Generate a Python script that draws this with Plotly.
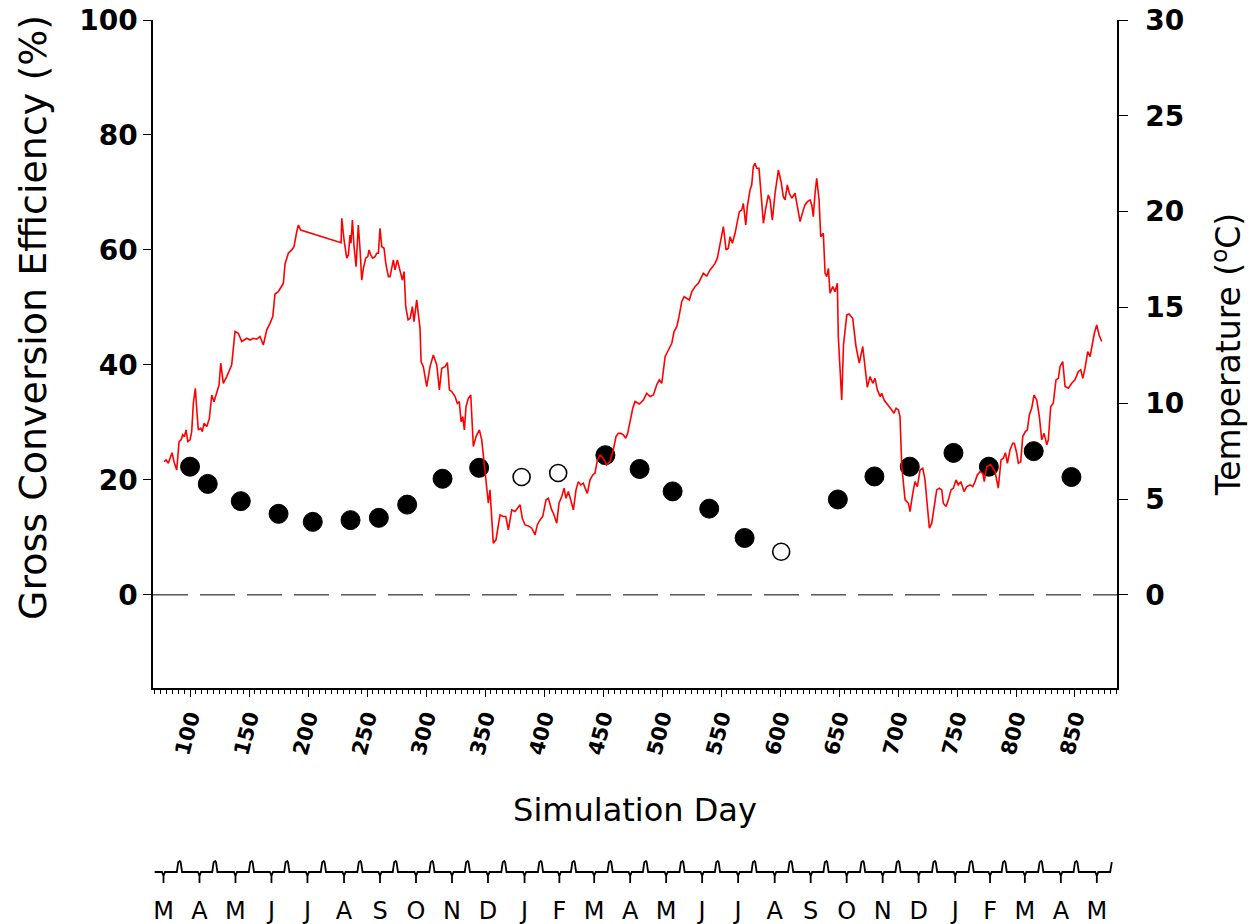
import plotly.graph_objects as go

# ---------------- data ----------------
temp_day = [78.0, 79.7, 81.6, 83.0, 84.7, 86.4, 88.7, 90.7, 92.4, 93.8, 95.2, 96.6, 98.1, 100.0, 101.4, 102.8, 104.5, 105.7, 107.0, 109.1,
            110.4, 111.9, 114.2, 116.4, 118.4, 120.3, 122.6, 124.6, 126.0, 128.2, 131.1, 133.9, 135.3, 138.1, 140.9, 143.8, 148.1, 150.9, 153.6, 156.5,
            159.3, 162.1, 165.0, 167.8, 170.1, 172.0, 174.8, 177.7, 179.1, 180.5, 183.3, 186.2, 188.1, 190.4, 191.8, 193.8, 228.0, 228.6, 230.5, 232.8,
            234.2, 235.6, 236.4, 237.6, 239.0, 240.7, 242.6, 244.1, 245.5, 246.9, 248.9, 250.6, 251.7, 253.1, 254.8, 256.8, 258.2, 259.6, 261.0, 262.5,
            264.4, 265.9, 268.1, 269.5, 270.9, 272.3, 273.7, 275.7, 277.1, 278.8, 279.9, 281.4, 282.8, 284.8, 286.5, 288.4, 289.8, 292.1, 293.5, 294.9,
            295.8, 297.7, 300.6, 303.4, 306.2, 309.1, 311.3, 313.3, 316.1, 318.1, 319.8, 321.8, 324.6, 326.5, 328.2, 329.7, 331.1, 332.5, 333.9, 335.9,
            337.9, 340.1, 342.4, 345.2, 347.2, 349.4, 351.4, 352.8, 354.2, 355.7, 357.0, 359.3, 361.3, 362.7, 365.5, 367.6, 369.8, 372.6, 375.4, 377.4,
            379.7, 381.6, 383.9, 386.7, 389.6, 392.4, 394.3, 396.6, 398.9, 401.7, 403.7, 406.5, 407.9, 410.8, 412.7, 415.0, 417.0, 418.6, 420.6, 422.6,
            424.9, 427.1, 429.1, 431.1, 433.3, 434.8, 436.7, 439.0, 441.3, 443.2, 445.2, 447.5, 450.2, 453.1, 455.9, 458.7, 461.0, 462.9, 465.0, 467.2,
            469.2, 470.9, 472.9, 475.2, 477.1, 480.8, 484.2, 487.0, 489.9, 492.7, 495.5, 497.7, 499.8, 502.6, 505.4, 508.3, 510.2, 512.5, 514.4, 516.7,
            518.7, 520.9, 523.2, 525.2, 528.0, 530.8, 532.8, 535.0, 537.9, 540.7, 543.0, 544.9, 546.9, 548.6, 550.6, 552.0, 554.3, 556.2, 557.7, 559.6,
            561.9, 563.8, 565.5, 567.6, 568.9, 571.0, 572.3, 574.6, 576.0, 577.4, 578.8, 580.3, 582.2, 583.9, 585.9, 587.9, 590.1, 591.6, 593.5, 595.8,
            598.6, 600.9, 602.8, 604.3, 606.2, 607.9, 609.9, 612.7, 614.7, 617.0, 619.3, 621.2, 623.2, 625.5, 626.9, 628.2, 629.7, 631.1, 633.1, 634.5,
            636.7, 638.2, 639.6, 641.0, 642.4, 644.7, 646.6, 648.6, 649.4, 650.9, 652.3, 653.8, 656.6, 658.5, 661.6, 664.4, 667.2, 670.1, 672.1, 674.0,
            676.3, 678.6, 680.5, 682.5, 684.8, 686.2, 688.2, 690.5, 692.7, 694.7, 696.6, 698.4, 700.3, 701.7, 703.2, 706.0, 708.8, 710.2, 712.5, 714.4,
            716.4, 718.7, 721.0, 722.9, 724.9, 726.6, 728.6, 730.5, 732.8, 735.0, 737.1, 738.4, 740.7, 742.7, 744.9, 746.9, 749.2, 751.1, 753.2, 756.0,
            758.3, 761.1, 763.3, 765.3, 767.2, 769.5, 771.8, 773.1, 775.2, 778.5, 782.2, 785.0, 787.3, 789.3, 791.0, 792.7, 795.0, 797.2, 798.6, 800.6,
            802.0, 804.0, 805.7, 807.9, 809.6, 811.3, 813.3, 815.3, 817.6, 819.8, 821.8, 823.8, 826.1, 827.4, 829.4, 831.6, 833.9, 835.9, 837.3, 839.6,
            841.6, 844.4, 847.2, 850.0, 852.8, 854.9, 856.6, 858.5, 860.8, 862.8, 864.7, 866.4, 868.4, 870.4, 872.7]
temp_val = [6.95, 7.04, 6.87, 7.13, 7.42, 6.95, 6.52, 8.00, 8.09, 8.35, 8.26, 8.61, 8.00, 8.09, 8.52, 10.0, 10.78, 9.65, 8.61, 8.70,
            8.52, 8.96, 8.78, 9.22, 10.43, 10.08, 10.61, 10.96, 12.09, 11.04, 11.39, 11.74, 12.0, 13.74, 13.65, 13.22, 13.39, 13.30, 13.39, 13.34,
            13.48, 13.04, 13.83, 14.17, 14.52, 15.70, 15.82, 16.12, 16.26, 17.27, 17.83, 18.0, 18.17, 18.95, 19.30, 19.04, 18.38, 19.65, 18.52, 17.57,
            17.74, 18.78, 18.35, 19.56, 18.17, 17.13, 19.30, 18.0, 16.43, 17.04, 17.57, 17.65, 18.0, 17.74, 17.57, 17.65, 17.83, 17.83, 19.13, 18.17,
            18.09, 17.30, 16.61, 16.61, 17.13, 17.48, 16.96, 17.48, 17.13, 16.61, 16.43, 16.87, 15.04, 14.35, 14.43, 15.04, 14.26, 15.39, 14.43, 13.91,
            12.17, 11.91, 10.87, 11.91, 12.52, 12.0, 10.70, 11.83, 11.91, 12.12, 10.70, 10.61, 10.35, 10.0, 10.09, 9.04, 9.30, 8.61, 9.82, 10.26,
            10.43, 7.74, 8.26, 8.61, 8.09, 6.87, 5.48, 4.78, 5.48, 4.09, 2.70, 2.87, 3.57, 4.17, 4.09, 4.09, 3.39, 4.43, 4.35, 4.52,
            4.70, 4.0, 3.65, 3.60, 3.48, 3.13, 3.65, 3.91, 4.09, 4.96, 5.04, 4.43, 4.26, 3.74, 4.78, 5.13, 5.57, 5.04, 5.39, 4.96,
            4.43, 5.48, 5.91, 5.74, 5.83, 5.57, 5.30, 6.0, 6.26, 6.35, 7.04, 7.3, 7.13, 6.78, 6.95, 7.57, 8.26, 8.43, 8.43, 8.35,
            8.17, 8.43, 9.13, 9.74, 10.09, 9.96, 10.17, 10.52, 10.35, 10.43, 10.96, 11.22, 11.04, 12.43, 12.78, 13.13, 13.74, 14.0, 14.52, 15.30,
            15.56, 15.48, 15.39, 15.82, 16.09, 16.26, 16.52, 16.78, 16.64, 16.96, 17.13, 17.30, 17.57, 18.17, 18.87, 19.22, 18.0, 18.09, 18.69, 18.35,
            18.87, 19.39, 20.0, 20.09, 20.43, 19.30, 20.26, 21.13, 21.39, 22.35, 22.52, 22.26, 22.26, 20.96, 19.39, 20.17, 20.87, 20.61, 19.56, 20.96,
            22.17, 21.56, 20.78, 20.61, 21.39, 20.96, 20.70, 20.96, 20.26, 19.48, 20.0, 20.35, 20.52, 20.61, 20.35, 19.74, 20.96, 21.74, 20.61, 18.69,
            18.87, 16.78, 16.61, 17.04, 15.74, 16.09, 15.82, 16.26, 13.48, 11.39, 10.17, 13.04, 14.61, 14.66, 14.43, 12.96, 12.09, 12.96, 11.84, 10.83,
            11.39, 11.04, 11.30, 10.70, 10.35, 10.52, 10.17, 10.0, 9.82, 9.65, 9.48, 9.74, 9.65, 9.30, 6.70, 4.96, 4.78, 4.35, 5.30, 5.91,
            5.65, 6.52, 6.61, 6.0, 4.61, 3.48, 3.74, 4.61, 5.48, 5.57, 5.48, 4.78, 4.61, 4.96, 5.48, 5.57, 6.0, 5.74, 5.91, 5.39,
            5.65, 5.74, 5.65, 5.91, 6.26, 6.43, 6.35, 5.91, 6.70, 6.8, 6.43, 5.57, 7.04, 7.13, 7.42, 6.87, 7.57, 7.91, 7.91, 7.39,
            6.87, 6.95, 8.26, 8.52, 8.61, 9.39, 9.74, 10.43, 10.17, 9.30, 8.09, 8.43, 7.83, 8.09, 9.82, 10.0, 11.22, 11.30, 11.91, 12.17,
            10.87, 10.78, 11.04, 11.22, 11.65, 11.74, 11.30, 11.83, 12.69, 12.43, 13.13, 13.65, 14.09, 13.56, 13.22]

filled_day = [100, 115, 143, 175, 204, 236, 260, 284, 314, 345, 452, 481, 509, 540, 570, 649, 680, 710, 747, 777, 815, 847]
filled_eff = [22.3, 19.3, 16.3, 14.1, 12.7, 13.0, 13.4, 15.7, 20.2, 22.1, 24.3, 21.9, 18.0, 15.0, 9.9, 16.6, 20.6, 22.3, 24.7, 22.3, 25.0, 20.5]
open_day = [381, 412, 601]
open_eff = [20.5, 21.2, 7.5]

month_labels = ["M", "A", "M", "J", "J", "A", "S", "O", "N", "D", "J", "F", "M", "A",
                "M", "J", "J", "A", "S", "O", "N", "D", "J", "F", "M", "A", "M"]
month_start_days = [60, 91, 121, 152, 182, 213, 244, 274, 305, 335, 366, 397, 425, 456,
                    486, 517, 547, 578, 609, 639, 670, 700, 731, 762, 790, 821, 851, 882]
month_axis_start = 70

x_ticks = [100, 150, 200, 250, 300, 350, 400, 450, 500, 550, 600, 650, 700, 750, 800, 850]
eff_ticks = [0, 20, 40, 60, 80, 100]
temp_ticks = [0, 5, 10, 15, 20, 25, 30]

# ---------------- layout geometry ----------------
W, H = 1256, 924
ML, MR, MT, MB = 153, 139, 20, 0
PW = W - ML - MR
PH = H - MT - MB
def yfrac(py):
    return (H - MB - py) / PH
def xfrac(px):
    return (px - ML) / PW

FONT = "DejaVu Sans, Liberation Sans, Arial, sans-serif"

# month strip path (built from month_start_days)
label_pos = [(month_start_days[i] + month_start_days[i + 1]) / 2 + 2 for i in range(len(month_labels))]
events = [(s, "up") for s in month_start_days[1:]] + [(p, "down") for p in label_pos]
events.sort()
mx, my = [month_axis_start], [0]
for pos, kind in events:
    if kind == "up":
        if pos >= month_start_days[-1]:
            mx += [pos - 2.2, pos - 0.8]
            my += [0, 0.9]
        else:
            mx += [pos - 2.2, pos - 1.0, pos - 0.3, pos + 0.3, pos + 1.0, pos + 2.2]
            my += [0, 0.9, 1.0, 1.0, 0.9, 0]
    else:
        mx += [pos - 1.3, pos, pos, pos, pos + 1.3]
        my += [0, -0.35, -1.0, -0.35, 0]

fig = go.Figure()

fig.add_trace(go.Scatter(x=temp_day, y=temp_val, mode="lines", yaxis="y2",
                         line=dict(color="#ff0000", width=1.6), showlegend=False))
fig.add_trace(go.Scatter(x=filled_day, y=filled_eff, mode="markers",
                         marker=dict(size=19, color="black", line=dict(color="black", width=1)),
                         showlegend=False))
fig.add_trace(go.Scatter(x=open_day, y=open_eff, mode="markers",
                         marker=dict(size=17, color="white", line=dict(color="black", width=1.6)),
                         showlegend=False))
fig.add_trace(go.Scatter(x=mx, y=my, mode="lines", xaxis="x2", yaxis="y3",
                         line=dict(color="black", width=1.8), showlegend=False))

fig.add_shape(type="line", xref="x domain", yref="y", x0=0, x1=1, y0=0, y1=0,
              line=dict(color="black", width=1, dash="35px,12px"))

# left axis title (placed as in the reference, slightly above the plot centre)
fig.add_annotation(text="Gross Conversion Efficiency (%)", xref="paper", yref="paper",
                   x=xfrac(33), y=yfrac(318), xanchor="center", yanchor="middle",
                   textangle=-90, showarrow=False, font=dict(family=FONT, size=38, color="black"))

xr = [68.6, 885.6]
ytickfont = dict(family=FONT, size=28, color="black", weight="bold")
xtickfont = dict(family=FONT, size=21, color="black", weight="bold")

fig.update_layout(
    width=W, height=H,
    margin=dict(l=ML, r=MR, t=MT, b=MB, autoexpand=False),
    paper_bgcolor="white", plot_bgcolor="white",
    font=dict(family=FONT, color="black"),
    xaxis=dict(range=xr, domain=[0, 1], anchor="y", showgrid=False, zeroline=False,
               showline=True, linecolor="black", linewidth=1.5,
               tickmode="array", tickvals=x_ticks, ticks="outside", ticklen=7, tickwidth=1.3,
               tickcolor="black", tickangle=-75, tickfont=xtickfont,
               minor=dict(dtick=5, tick0=0, ticks="outside", ticklen=4, tickwidth=1, tickcolor="black"),
               title=dict(text="Simulation Day", font=dict(family=FONT, size=32), standoff=42)),
    yaxis=dict(range=[-16.2, 100], domain=[yfrac(688), yfrac(20)], anchor="x",
               showgrid=False, zeroline=False, showline=True, linecolor="black", linewidth=1.5,
               tickmode="array", tickvals=eff_ticks, ticks="outside", ticklen=8, tickwidth=1.3,
               tickcolor="black", tickfont=ytickfont),
    yaxis2=dict(range=[-4.86, 30], overlaying="y", side="right", anchor="x",
                showgrid=False, zeroline=False, showline=True, linecolor="black", linewidth=1.5,
                tickmode="array", tickvals=temp_ticks, ticks="outside", ticklen=9, tickwidth=1.3,
                tickcolor="black", tickfont=ytickfont, ticklabelstandoff=12,
                title=dict(text="Temperature (<sup>o</sup>C)", font=dict(family=FONT, size=33), standoff=34)),
    xaxis2=dict(range=xr, domain=[0, 1], anchor="y3", showgrid=False, zeroline=False,
                showline=False, tickmode="array", tickvals=label_pos, ticktext=month_labels,
                ticks="", tickfont=dict(family=FONT, size=24, color="black"), ticklabelstandoff=10),
    yaxis3=dict(range=[-1.1, 1.1], domain=[yfrac(884), yfrac(860)], anchor="x2",
                showgrid=False, zeroline=False, showline=False, showticklabels=False, ticks=""),
)

fig.write_html("out.html", config={"displayModeBar": False},
               post_script="document.body.style.margin='0px';document.body.style.overflow='hidden';")
